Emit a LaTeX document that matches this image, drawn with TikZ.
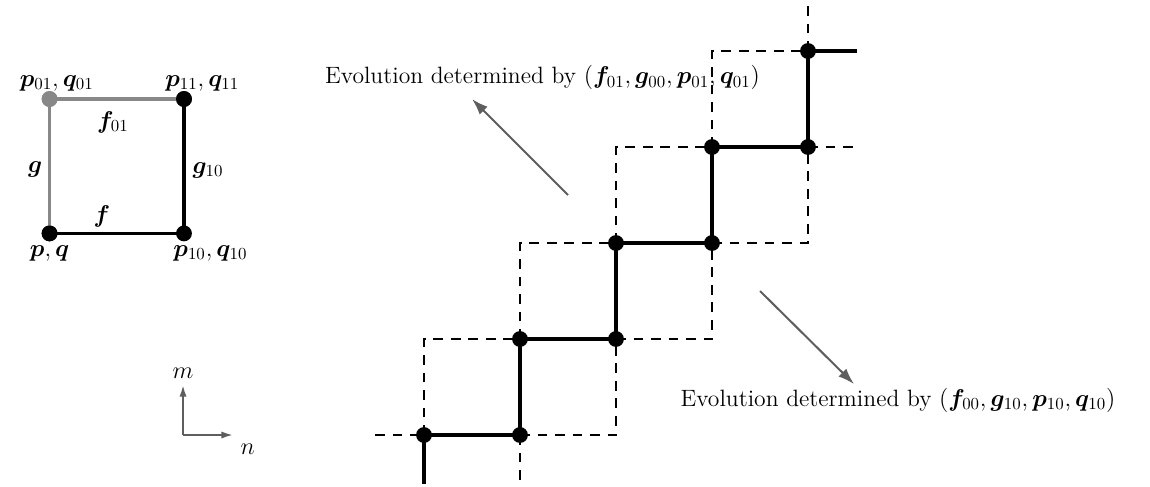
\documentclass[tikz,border=0pt]{standalone}
\usepackage{amsmath, amssymb, bm}
\usepackage{xcolor}
\usetikzlibrary{arrows.meta}
\definecolor{edge-grey}{HTML}{888888}
\definecolor{arrow-grey}{HTML}{5E5E5E}

\begin{document}
\begin{tikzpicture}[
    every node/.style={font=\fontsize{14}{17}\selectfont},
    stair/.style={line width=2.2pt, black},
    gridline/.style={line width=0.7pt, dash pattern=on 5.8pt off 4.6pt},
    dot/.style={circle, fill=black, inner sep=0pt, minimum size=3.3mm},
    greydot/.style={dot, fill=edge-grey},
    evo/.style={-{Latex[length=3.4mm, width=2.3mm]}, line width=1.2pt, arrow-grey},
    axis/.style={-{Latex[length=2.4mm, width=1.5mm]}, line width=1.1pt, arrow-grey}]
  \useasboundingbox (-8.833,-1.0625) rectangle (15.125,9.0625);

  % elementary square
  \node[dot] (PQ) at (-7.8,4.2) {};
  \node[dot] (P10) at (-5.0,4.2) {};
  \node[greydot] (P01) at (-7.8,7.0) {};
  \node[dot] (P11) at (-5.0,7.0) {};
  \draw[line width=2pt, edge-grey] (PQ.center) -- (P01.center) -- (P11.center);
  \draw[stair] (PQ.center) -- (P10.center) -- (P11.center);
  \node[dot] at (PQ) {};
  \node[dot] at (P11) {};
  \node[greydot] at (P01) {};
  \node (PQlab) at (-7.8,3.79) {$\bm{p},\bm{q}$};
  \node (P10lab) at (-4.45,3.79) {$\bm{p}_{10},\bm{q}_{10}$};
  \node (P01lab) at (-7.65,7.33) {$\bm{p}_{01},\bm{q}_{01}$};
  \node (P11lab) at (-4.62,7.33) {$\bm{p}_{11},\bm{q}_{11}$};
  \node (F01) at (-6.48,6.52) {$\bm{f}_{01}$};
  \node (F) at (-6.71,4.56) {$\bm{f}$};
  \node (G) at (-8.1,5.54) {$\bm{g}$};
  \node (G10) at (-4.5,5.52) {$\bm{g}_{10}$};

  % lattice directions
  \coordinate (O) at (-5.02,0);
  \coordinate (Mtip) at (-5.02,1.04);
  \coordinate (Ntip) at (-3.98,0);
  \draw[axis] (O) -- (Mtip);
  \draw[axis] (O) -- (Ntip);
  \node (M) at (-5.02,1.29) {$m$};
  \node (N) at (-3.67,-0.29) {$n$};

  % staircase
  \foreach \k in {0,...,4} \coordinate (d\k) at (2*\k,2*\k);
  \foreach \k in {0,...,3} \coordinate (r\k) at (2*\k+2,2*\k);
  \coordinate (bot) at (0,-1.02);
  \coordinate (top) at (9.02,8);
  \coordinate (left) at (-1.02,0);
  \coordinate (below) at (2,-1.0625);
  \coordinate (above) at (8,9.0625);
  \coordinate (right) at (9.02,6);

  \foreach \k [count=\j] in {0,...,3}
    \draw[gridline] (d\k) |- (d\j);
  \foreach \k [count=\j] in {0,...,2}
    \draw[gridline] (r\k) -| (r\j);
  \draw[gridline] (r3) -- (right);
  \draw[gridline] (left) -- (d0);
  \draw[gridline] (r0) -- (below);
  \draw[gridline] (d4) -- (above);

  \draw[stair] (bot) -- (d0) -- (r0) -- (d1) -- (r1) -- (d2) -- (r2) -- (d3)
    -- (r3) -- (d4) -- (top);
  \foreach \k in {0,...,4} \node[dot] at (d\k) {};
  \foreach \k in {0,...,3} \node[dot] at (r\k) {};

  % evolution directions
  \coordinate (UpTail) at (3,5);
  \coordinate (UpHead) at (1,7);
  \coordinate (DnTail) at (7,3);
  \coordinate (DnHead) at (8.96,1.06);
  \draw[evo] (UpTail) -- (UpHead);
  \draw[evo] (DnTail) -- (DnHead);
  \node (EvoUp) at (2.47,7.44)
    {Evolution determined by $(\bm{f}_{01},\bm{g}_{00},\bm{p}_{01},\bm{q}_{01})$};
  \node (EvoDn) at (9.875,0.73)
    {Evolution determined by $(\bm{f}_{00},\bm{g}_{10},\bm{p}_{10},\bm{q}_{10})$};
\end{tikzpicture}
\end{document}
